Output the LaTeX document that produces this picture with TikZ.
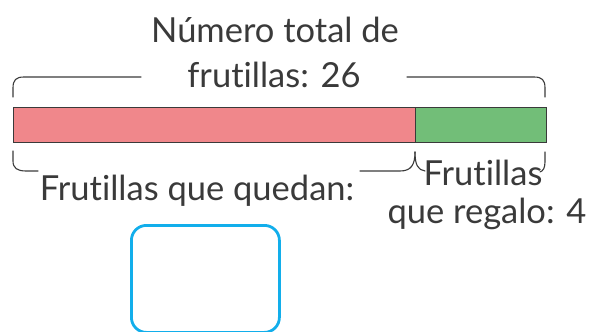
\documentclass[tikz,border=0pt]{standalone}
\usepackage{fontspec}
\setmainfont{Lato}[Ligatures={NoCommon,NoDiscretionary}]
\definecolor{barred}{HTML}{F0878B}
\definecolor{bargreen}{HTML}{72BE78}
\definecolor{edge}{HTML}{3A3A3A}
\definecolor{boxblue}{HTML}{12AEEB}
\tikzset{
  part/.style={draw=edge, line width=1.4pt, inner sep=0pt, anchor=north west},
  brace/.style={draw=edge, line width=1.1pt, line cap=round},
  lbl/.style={font=\fontsize{34.5}{34.5}\selectfont, text=edge, inner sep=1pt, anchor=base},
  answer/.style={draw=boxblue, line width=2.8pt, rounded corners=15pt, inner sep=0pt, anchor=north west}
}
\begin{document}
\begin{tikzpicture}[x=1pt, y=-1pt]
\useasboundingbox (0,0) rectangle (590,332);
% bar
\node[part, fill=barred, minimum width=402pt, minimum height=35pt] (red) at (13,107) {};
\node[part, fill=bargreen, minimum width=131pt, minimum height=35pt] (green) at (415,107) {};
% top brace
\draw[brace] (13,97) -- (13,88) .. controls (13,80) and (16,77) .. (24,77) -- (141,77);
\draw[brace] (407,77) -- (534,77) .. controls (542,77) and (545,80) .. (545,88) -- (545,97);
% bottom left brace
\draw[brace] (13,151) -- (13,161) .. controls (13,168) and (17,171) .. (26,171) -- (38,171);
\draw[brace] (360,171) -- (400,171) .. controls (411,171) and (415,165) .. (415,152);
% bottom right brace
\draw[brace] (415,152) .. controls (415,165) and (418,170) .. (425,171);
\draw[brace] (545,152) -- (545,162) .. controls (545,168) and (543,171) .. (540,172);
% labels
\node[lbl] (total1) at (275,42) {Número total de};
\node[lbl] (total2) at (274,87) {frutillas: 26};
\node[lbl] (left) at (197,200) {Frutillas que quedan:};
\node[lbl] (right1) at (483,185) {Frutillas};
\node[lbl] (right2) at (487,223) {que regalo: 4};
% answer box
\node[answer, minimum width=148pt, minimum height=107pt] (ans) at (130,224) {};
\end{tikzpicture}
\end{document}
